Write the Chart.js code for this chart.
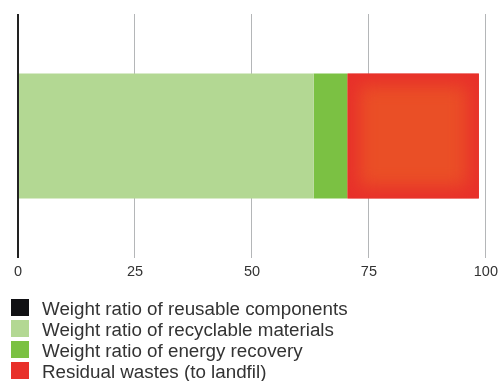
<!DOCTYPE html>
<html>
<head>
<meta charset="utf-8">
<script src="https://cdn.jsdelivr.net/npm/chart.js@4"></script>
<style>
  html, body { margin: 0; padding: 0; background: #fff; }
  #wrap { position: relative; width: 503px; height: 381px; }
  #legend { position: absolute; left: 11px; top: 299px; font-family: "Liberation Sans", Arial, sans-serif; font-size: 18.8px; color: #333; }
  .row { position: relative; height: 21px; }
  .box { position: absolute; left: 0; top: 0; width: 18px; height: 17px; }
  .txt { position: absolute; left: 31px; top: 1px; line-height: 17px; white-space: nowrap; }
</style>
</head>
<body>
<div id="wrap">
  <canvas id="chart" width="503" height="381"></canvas>
  <div id="legend"></div>
</div>
<script>
const categories = [''];
const seriesNames = [
    'Weight ratio of reusable components',
    'Weight ratio of recyclable materials',
    'Weight ratio of energy recovery',
    'Residual wastes (to landfil)'
];
const reusable = [0];
const recyclable = [63.2];
const energy = [7.2];
const residual = [28.1];
const seriesColors = ['#111114', '#b3d893', '#7bc143', '#e8302a'];
const xTicks = [0, 25, 50, 75, 100];

const residualCentre = '#ea4f26';

// soft orange glow inside the red landfill bar
const glowPlugin = {
    id: 'glow',
    afterDatasetsDraw(chart) {
        const meta = chart.getDatasetMeta(3);
        const el = meta.data[0];
        if (!el) return;
        const p = el.getProps(['x', 'y', 'base', 'height'], true);
        const left = Math.min(p.x, p.base), right = Math.max(p.x, p.base);
        const top = p.y - p.height / 2, h = p.height, w = right - left;
        const ctx = chart.ctx;
        ctx.save();
        ctx.beginPath();
        ctx.rect(left, top, w, h);
        ctx.clip();
        ctx.fillStyle = seriesColors[3];
        ctx.fillRect(left, top, w, h);
        ctx.filter = 'blur(9px)';
        ctx.fillStyle = residualCentre;
        ctx.fillRect(left + 12, top + 12, w - 24, h - 24);
        ctx.restore();
    }
};

const allValues = [reusable, recyclable, energy, residual];

new Chart(document.getElementById('chart'), {
    type: 'bar',
    data: {
        labels: categories,
        datasets: allValues.map((vals, i) => ({
            label: seriesNames[i],
            data: vals,
            backgroundColor: seriesColors[i],
            borderWidth: 0,
            barPercentage: 0.512,
            categoryPercentage: 1
        }))
    },
    options: {
        indexAxis: 'y',
        responsive: false,
        animation: false,
        layout: { padding: { left: 18, right: 12, top: 14, bottom: 93 } },
        plugins: { legend: { display: false }, tooltip: { enabled: false } },
        scales: {
            x: {
                stacked: true,
                min: 0,
                max: 100,
                afterBuildTicks: (s) => { s.ticks = xTicks.map(v => ({ value: v })); },
                afterFit: (s) => { s.height = 30; },
                border: { display: false },
                grid: {
                    drawTicks: false,
                    color: (c) => c.index === 0 ? '#222' : '#b4b6b8',
                    lineWidth: (c) => c.index === 0 ? 2 : 1
                },
                ticks: {
                    padding: 5,
                    color: '#333',
                    font: { family: '"Liberation Sans", Arial, sans-serif', size: 14.5 }
                }
            },
            y: {
                stacked: true,
                display: false
            }
        }
    },
    plugins: [glowPlugin]
});

const legend = document.getElementById('legend');
seriesNames.forEach((name, i) => {
    const row = document.createElement('div');
    row.className = 'row';
    row.innerHTML = '<span class="box" style="background:' + seriesColors[i] + '"></span><span class="txt">' + name + '</span>';
    legend.appendChild(row);
});
</script>
</body>
</html>
